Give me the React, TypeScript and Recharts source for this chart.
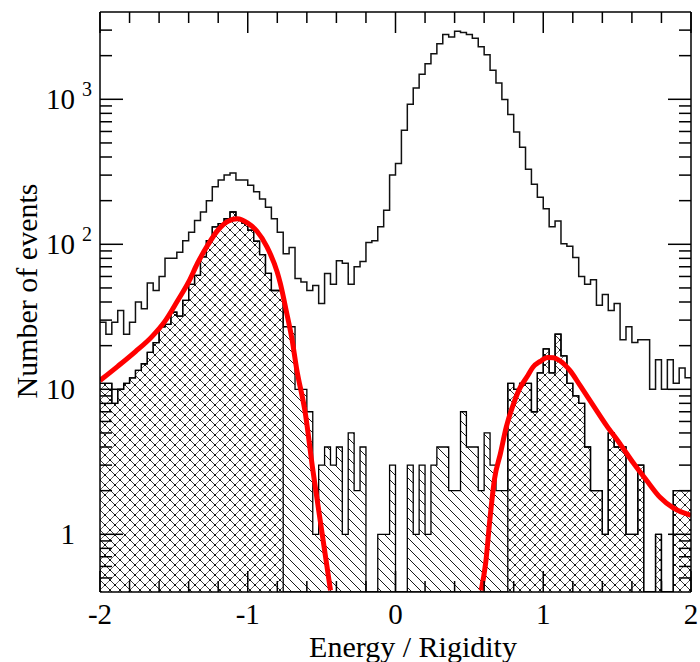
import { Area, ComposedChart, Line, XAxis, YAxis } from "recharts";

const BIN_START = -2;
const BIN_WIDTH = 0.04;
const Y_MIN = 0.4;
const Y_MAX = 4000;

// all events, 100 bins of 0.04 from -2 to 2
const allCounts = [
  29, 24, 29, 35, 24, 29, 40, 36, 54, 48,
  60, 80, 80, 88, 106, 121, 146, 167, 200, 249,
  278, 300, 310, 278, 278, 255, 230, 205, 180, 150,
  121, 86, 95, 58, 55, 48, 52, 39, 63, 53,
  77, 74, 53, 70, 76, 103, 106, 132, 172, 300,
  361, 611, 924, 1197, 1487, 1762, 2065, 2420, 2795, 2690,
  2944, 2885, 2795, 2640, 2300, 2025, 1588, 1295, 995, 785,
  594, 467, 329, 260, 211, 176, 132, 145, 101, 97,
  81, 60, 53, 57, 38, 45, 35, 39, 22, 27,
  21, 22, 22, 10, 16, 10, 16, 11, 14, 12,
];

// selected events (hatched)
const selectedCounts = [
  11, 11, 8, 10, 11, 12, 13.5, 15, 18, 21,
  27, 28, 34, 32, 41, 53, 61, 82, 106, 132,
  139, 150, 167, 150, 140, 125, 105, 85, 63, 48,
  48, 27, 27, 10, 10, 7, 1, 3, 4, 3,
  4, 1, 5, 2, 4, 0, 0, 1, 1, 3,
  0, 0, 3, 1, 3, 1, 3, 4, 4, 2,
  2, 7, 4, 4, 2, 5, 3, 2, 2, 11,
  10, 11, 11, 7, 13, 19, 13, 24, 17, 11,
  9, 8, 4, 2, 2, 1, 5, 4, 4, 1,
  1, 3, 0, 0, 1, 0, 0, 2, 2, 2,
];

// x ranges where the selected events are cross-hatched
const crossRanges = [
  [-2, -0.76],
  [0.76, 2],
];

const leftFitX = [-2.0, -1.88, -1.76, -1.65, -1.56, -1.48, -1.4, -1.34, -1.27, -1.2, -1.13, -1.07, -1.0, -0.94, -0.87, -0.8, -0.78, -0.74, -0.7, -0.67, -0.61, -0.56, -0.5, -0.44];
const leftFitY = [11.5, 14.4, 18.2, 23, 29.5, 40, 55, 74, 99, 126, 145, 150, 140, 124, 96, 64, 54, 35, 22, 14, 6.8, 2.8, 1.07, 0.41];

const rightFitX = [0.58, 0.61, 0.64, 0.67, 0.71, 0.75, 0.8, 0.84, 0.89, 0.93, 0.98, 1.03, 1.07, 1.11, 1.18, 1.25, 1.34, 1.43, 1.52, 1.61, 1.7, 1.79, 1.88, 2.0];
const rightFitY = [0.41, 0.63, 1.3, 2.4, 3.6, 5.5, 8.0, 10.1, 12.2, 14.2, 15.6, 16.6, 16.5, 15.8, 13.5, 10.6, 7.7, 5.6, 4.2, 3.1, 2.35, 1.8, 1.52, 1.35];

const xTicks = [-2, -1.8, -1.6, -1.4, -1.2, -1, -0.8, -0.6, -0.4, -0.2, 0, 0.2, 0.4, 0.6, 0.8, 1, 1.2, 1.4, 1.6, 1.8, 2];
const xMajorTicks = [-2, -1, 0, 1, 2];
const xTickLabels = ["-2", "-1", "0", "1", "2"];

const yTicks = [
  0.5, 0.6, 0.7, 0.8, 0.9, 1, 2, 3, 4, 5, 6, 7, 8, 9, 10, 20, 30, 40, 50, 60, 70, 80, 90,
  100, 200, 300, 400, 500, 600, 700, 800, 900, 1000, 2000, 3000,
];
const yMajorTicks = [1, 10, 100, 1000];
const yTickBases = ["1", "10", "10", "10"];
const yTickExponents = ["", "", "2", "3"];

const FONT = '"Liberation Serif", "Times New Roman", serif';
const MAJOR = 21;
const MINOR = 11;

const binX = (i: number) => Math.round((BIN_START + i * BIN_WIDTH) * 100) / 100;

function stepRows(counts: number[]) {
  const rows = counts.map((c, i) => ({ x: binX(i), y: Math.max(c, Y_MIN) }));
  rows.push({ x: 2, y: rows[rows.length - 1].y });
  return rows;
}

const inCross = (x: number) => crossRanges.some(([a, b]) => x >= a - 1e-9 && x < b - 1e-9);

const allRows = stepRows(allCounts);
const selectedRows = stepRows(selectedCounts);
const crossRows = stepRows(selectedCounts.map((c, i) => (inCross(binX(i)) ? c : 0)));
const leftFit = leftFitX.map((x, i) => ({ x, y: leftFitY[i] }));
const rightFit = rightFitX.map((x, i) => ({ x, y: rightFitY[i] }));

const majorIndex = (list: number[], v: number) => list.findIndex((m) => Math.abs(m - v) < 1e-6);

function BottomTick({ x, y, payload }: any) {
  const idx = majorIndex(xMajorTicks, payload.value);
  return (
    <g>
      <line x1={x} x2={x} y1={y} y2={y - (idx >= 0 ? MAJOR : MINOR)} stroke="#000" strokeWidth={1.5} />
      {idx >= 0 && (
        <text x={x} y={y + 32} textAnchor="middle" fontSize={29} fontFamily={FONT} fill="#000">
          {xTickLabels[idx]}
        </text>
      )}
    </g>
  );
}

function TopTick({ x, y, payload }: any) {
  const idx = majorIndex(xMajorTicks, payload.value);
  return <line x1={x} x2={x} y1={y} y2={y + (idx >= 0 ? MAJOR : MINOR)} stroke="#000" strokeWidth={1.5} />;
}

function LeftTick({ x, y, payload }: any) {
  const idx = majorIndex(yMajorTicks, payload.value);
  return (
    <g>
      <line x1={x} x2={x + (idx >= 0 ? MAJOR + 2 : MINOR + 1)} y1={y} y2={y} stroke="#000" strokeWidth={1.5} />
      {idx >= 0 && (
        <text x={x - 25} y={y + 10} textAnchor="end" fontSize={29} fontFamily={FONT} fill="#000">
          {yTickBases[idx]}
        </text>
      )}
      {idx >= 0 && yTickExponents[idx] && (
        <text x={x - 18} y={y - 3} fontSize={20} fontFamily={FONT} fill="#000">
          {yTickExponents[idx]}
        </text>
      )}
    </g>
  );
}

function RightTick({ x, y, payload }: any) {
  const idx = majorIndex(yMajorTicks, payload.value);
  return <line x1={x} x2={x - (idx >= 0 ? MAJOR + 2 : MINOR + 1)} y1={y} y2={y} stroke="#000" strokeWidth={1.5} />;
}

const axisLine = { stroke: "#000", strokeWidth: 1.5 };

export default function App() {
  return (
    <div style={{ position: "absolute", left: 0, top: 0, background: "#fff" }}>
      <ComposedChart width={700} height={662} margin={{ top: 11, right: 8, bottom: 69, left: 99 }}>
        <defs>
          <pattern id="diagHatch" patternUnits="userSpaceOnUse" width={10} height={10}>
            <path d="M-1,-1 L11,11 M-1,9 L1,11 M9,-1 L11,1" stroke="#000" strokeWidth={0.9} />
          </pattern>
          <pattern id="crossHatch" patternUnits="userSpaceOnUse" width={10} height={10}>
            <path d="M-1,-1 L11,11 M11,-1 L-1,11" stroke="#444" strokeWidth={0.8} />
            <circle cx={5} cy={5} r={1} fill="#000" />
            <circle cx={0} cy={0} r={1} fill="#000" />
            <circle cx={10} cy={0} r={1} fill="#000" />
            <circle cx={0} cy={10} r={1} fill="#000" />
            <circle cx={10} cy={10} r={1} fill="#000" />
          </pattern>
        </defs>
        <XAxis
          dataKey="x"
          type="number"
          domain={[-2, 2]}
          allowDataOverflow
          ticks={xTicks}
          interval={0}
          height={1}
          tickSize={0}
          tickMargin={0}
          tickLine={false}
          tick={<BottomTick />}
          axisLine={axisLine}
        />
        <XAxis
          xAxisId="top"
          orientation="top"
          dataKey="x"
          type="number"
          domain={[-2, 2]}
          allowDataOverflow
          ticks={xTicks}
          interval={0}
          height={1}
          tickSize={0}
          tickMargin={0}
          tickLine={false}
          tick={<TopTick />}
          axisLine={axisLine}
        />
        <YAxis
          type="number"
          scale="log"
          domain={[Y_MIN, Y_MAX]}
          allowDataOverflow
          ticks={yTicks}
          interval={0}
          width={1}
          tickSize={0}
          tickMargin={0}
          tickLine={false}
          tick={<LeftTick />}
          axisLine={axisLine}
        />
        <YAxis
          yAxisId="right"
          orientation="right"
          type="number"
          scale="log"
          domain={[Y_MIN, Y_MAX]}
          allowDataOverflow
          ticks={yTicks}
          interval={0}
          width={1}
          tickSize={0}
          tickMargin={0}
          tickLine={false}
          tick={<RightTick />}
          axisLine={axisLine}
        />
        <Area
          data={selectedRows}
          dataKey="y"
          type="stepAfter"
          baseValue={Y_MIN}
          fill="url(#diagHatch)"
          fillOpacity={1}
          stroke="#000"
          strokeWidth={1.3}
          dot={false}
          activeDot={false}
          isAnimationActive={false}
        />
        <Area
          data={crossRows}
          dataKey="y"
          type="stepAfter"
          baseValue={Y_MIN}
          fill="url(#crossHatch)"
          fillOpacity={1}
          stroke="#000"
          strokeWidth={1.3}
          dot={false}
          activeDot={false}
          isAnimationActive={false}
        />
        <Line
          data={allRows}
          dataKey="y"
          type="stepAfter"
          stroke="#111"
          strokeWidth={1.5}
          dot={false}
          activeDot={false}
          isAnimationActive={false}
        />
        <Line
          data={leftFit}
          dataKey="y"
          type="monotone"
          stroke="#ff0000"
          strokeWidth={5}
          dot={false}
          activeDot={false}
          isAnimationActive={false}
        />
        <Line
          data={rightFit}
          dataKey="y"
          type="monotone"
          stroke="#ff0000"
          strokeWidth={5}
          dot={false}
          activeDot={false}
          isAnimationActive={false}
        />
        <text x={413} y={657} textAnchor="middle" fontSize={30} fontFamily={FONT} fill="#000">
          Energy / Rigidity
        </text>
        <text
          transform="translate(37, 291) rotate(-90)"
          textAnchor="middle"
          fontSize={30}
          fontFamily={FONT}
          fill="#000"
        >
          Number of events
        </text>
      </ComposedChart>
    </div>
  );
}
